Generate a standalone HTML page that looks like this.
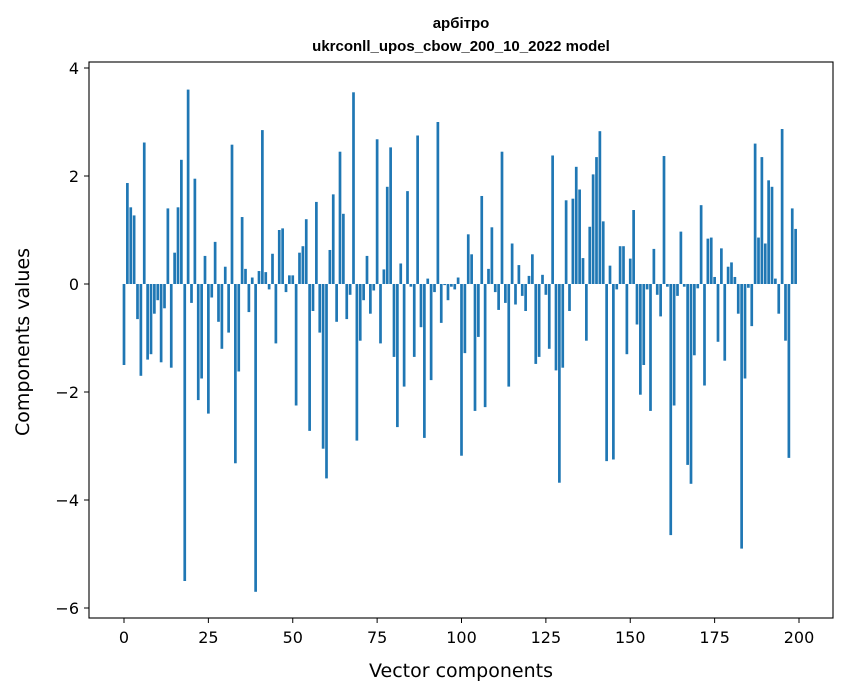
<!DOCTYPE html>
<html><head><meta charset="utf-8"><style>
body{margin:0;background:#fff;}
svg{display:block;font-family:"DejaVu Sans","Liberation Sans",sans-serif;}
</style></head><body>
<svg id="chart" width="847" height="696" viewBox="0 0 847 696">
<rect width="847" height="696" fill="#fff"/>
<text x="461" y="28" text-anchor="middle" font-size="15" font-weight="bold" font-family="Liberation Sans, sans-serif">арбітро</text>
<text x="461" y="51" text-anchor="middle" font-size="15" font-weight="bold" font-family="Liberation Sans, sans-serif">ukrconll_upos_cbow_200_10_2022 model</text>
<g id="bars"></g>
<rect x="89" y="62" width="744" height="556" fill="none" stroke="#000" stroke-width="1.1"/>
<g id="xticks"></g>
<g id="yticks"></g>
<text x="461" y="677" text-anchor="middle" font-size="19">Vector components</text>
<text transform="translate(29,342) rotate(-90)" text-anchor="middle" font-size="19">Components values</text>
</svg>
<script>
const values = [-1.5,1.87,1.42,1.27,-0.65,-1.7,2.62,-1.4,-1.3,-0.55,-0.3,-1.45,-0.45,1.4,-1.55,0.58,1.42,2.3,-5.5,3.6,
-0.35,1.95,-2.15,-1.75,0.52,-2.4,-0.25,0.78,-0.7,-1.2,0.32,-0.9,2.58,-3.32,-1.62,1.24,0.28,-0.52,0.12,-5.7,
0.24,2.85,0.22,-0.1,0.56,-1.1,1.0,1.03,-0.15,0.16,0.16,-2.25,0.58,0.7,1.2,-2.72,-0.5,1.52,-0.9,-3.05,
-3.6,0.63,1.66,-0.7,2.45,1.3,-0.65,-0.2,3.55,-2.9,-1.05,-0.3,0.52,-0.55,-0.12,2.68,-1.1,0.27,1.8,2.53,
-1.35,-2.65,0.38,-1.9,1.72,-0.05,-1.35,2.75,-0.8,-2.85,0.1,-1.78,-0.15,3.0,-0.72,-0.02,-0.3,-0.05,-0.1,0.12,
-3.18,-1.28,0.92,0.55,-2.35,-0.98,1.63,-2.28,0.28,1.05,-0.15,-0.48,2.45,-0.35,-1.9,0.75,-0.38,0.35,-0.22,-0.5,
0.15,0.55,-1.48,-1.35,0.17,-0.2,-1.2,2.38,-1.6,-3.68,-1.55,1.55,-0.5,1.58,2.17,1.75,0.48,-1.05,1.06,2.03,
2.35,2.83,1.16,-3.28,0.34,-3.25,-0.1,0.7,0.7,-1.3,0.47,1.37,-0.75,-2.05,-1.5,-0.1,-2.35,0.65,-0.2,-0.6,
2.37,-0.05,-4.65,-2.25,-0.22,0.97,-0.05,-3.35,-3.7,-1.32,-0.08,1.46,-1.88,0.84,0.86,0.13,-1.07,0.66,-1.42,0.32,
0.4,0.13,-0.55,-4.9,-1.75,-0.07,-0.78,2.6,0.86,2.35,0.75,1.92,1.8,0.1,-0.55,2.87,-1.05,-3.22,1.4,1.02];
const xTicks = [0,25,50,75,100,125,150,175,200];
const yTicks = [-6,-4,-2,0,2,4];
const ns = "http://www.w3.org/2000/svg";
const xs = v => 124 + v * 3.375;
const ys = v => 284 - v * 54;
const bars = document.getElementById('bars');
values.forEach((v, i) => {
  const r = document.createElementNS(ns, 'rect');
  
  
  const y0 = Math.min(ys(v), ys(0)), h = Math.abs(ys(v) - ys(0));
  r.setAttribute('x', xs(i - 0.4)); r.setAttribute('width', 0.8 * 3.375);
  r.setAttribute('y', y0); r.setAttribute('height', Math.max(h, 0.3));
  r.setAttribute('fill', '#1f77b4');
  bars.appendChild(r);
});
const xg = document.getElementById('xticks');
xTicks.forEach(t => {
  const l = document.createElementNS(ns, 'line');
  
  
  l.setAttribute('x1', xs(t)); l.setAttribute('x2', xs(t)); l.setAttribute('y1', 618); l.setAttribute('y2', 623);
  l.setAttribute('stroke', '#000');
  xg.appendChild(l);
  const tx = document.createElementNS(ns, 'text');
  
  
  tx.setAttribute('x', xs(t)); tx.setAttribute('y', 643); tx.setAttribute('text-anchor', 'middle'); tx.setAttribute('font-size', '16');
  tx.textContent = t;
  xg.appendChild(tx);
});
const yg = document.getElementById('yticks');
yTicks.forEach(t => {
  const l = document.createElementNS(ns, 'line');
  
  
  l.setAttribute('x1', 84); l.setAttribute('x2', 89); l.setAttribute('y1', ys(t)); l.setAttribute('y2', ys(t));
  l.setAttribute('stroke', '#000');
  yg.appendChild(l);
  const tx = document.createElementNS(ns, 'text');
  
  
  tx.setAttribute('x', 79); tx.setAttribute('y', ys(t) + 6); tx.setAttribute('text-anchor', 'end'); tx.setAttribute('font-size', '16');
  tx.textContent = t < 0 ? '\u2212' + Math.abs(t) : t;
  yg.appendChild(tx);
});
</script>
</body></html>
